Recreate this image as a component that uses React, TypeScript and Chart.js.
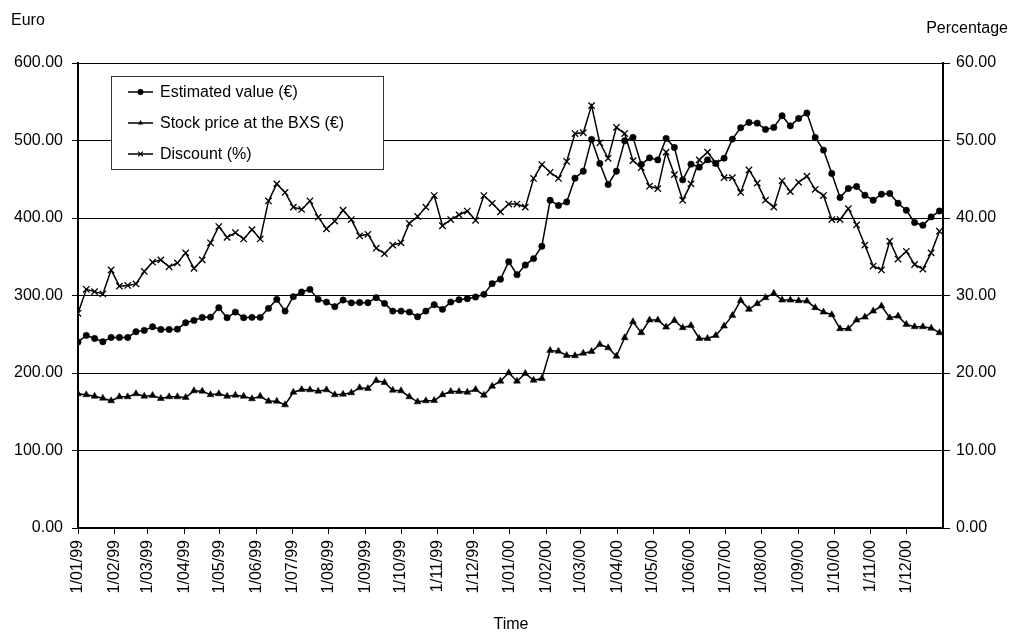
import React, { useEffect, useRef } from 'react';
import { Chart, registerables } from 'chart.js';

Chart.register(...registerables);

const FONT_FAMILY = "'Liberation Sans', Arial, Helvetica, sans-serif";

// Month-start tick labels (d/mm/yy)
const TICK_LABELS = [
  '1/01/99', '1/02/99', '1/03/99', '1/04/99', '1/05/99', '1/06/99',
  '1/07/99', '1/08/99', '1/09/99', '1/10/99', '1/11/99', '1/12/99',
  '1/01/00', '1/02/00', '1/03/00', '1/04/00', '1/05/00', '1/06/00',
  '1/07/00', '1/08/00', '1/09/00', '1/10/00', '1/11/00', '1/12/00',
];

const START_DATE = '1/01/99';
const END_DATE = '1/01/01';

// Weekly observations (Fridays), starting 1 Jan 1999
const ESTIMATED_VALUE = [
  240, 248.5, 244.6, 240.3, 245.9, 245.9, 245.9, 253.3, 255, 259.7,
  256.2, 256.2, 256.6, 264.9, 267.9, 271.7, 272.1, 284.3, 271.4, 278.6,
  271.4, 271.8, 271.8, 283.4, 295, 279.9, 298.5, 304.5, 307.9, 295,
  291.5, 285.6, 294.1, 290.5, 291, 290.7, 297.2, 289.8, 279.9, 279.9,
  278.6, 272.6, 279.9, 288.1, 282.1, 291.5, 294.6, 295.9, 298, 301.5,
  315.3, 321, 343.7, 326.9, 339.3, 347.6, 363.5, 422.9, 416.1, 420.7,
  451.4, 460.4, 501.4, 470.4, 443.2, 460.4, 499.6, 504, 469.1, 477.6,
  475, 502.7, 491, 449.2, 469.5, 465.6, 475, 470.4, 477.2, 501.8,
  516.4, 523.3, 522.4, 514.3, 516.9, 531.9, 518.9, 528.5, 535.4, 504,
  487.6, 457.4, 426.4, 438.1, 440.6, 429.4, 422.9, 430.7, 431.6, 419.1,
  410, 394.1, 390.6, 401.4, 409,
];

const STOCK_PRICE = [
  173.2, 171.9, 170, 167.5, 164.1, 169.3, 169.3, 173.2, 170, 171,
  167.1, 169.3, 169.3, 168.4, 177, 176.6, 172, 173.2, 170, 171.4,
  170, 166.7, 170, 163.6, 163.6, 158.9, 175.2, 178.7, 178.3, 176.6,
  178.3, 171.9, 172.6, 174.4, 180.9, 180, 190.3, 187.8, 177.8, 177,
  169.3, 162.8, 164.1, 164.5, 171.9, 176.1, 176.1, 175.2, 178.7, 171.4,
  183, 189.4, 200.3, 189.4, 199.4, 190.7, 192.9, 229.1, 228.2, 222.6,
  222.3, 225.6, 227.8, 236.9, 232.6, 221.7, 245.5, 266.2, 252, 268.3,
  268.3, 259.2, 267.9, 258.4, 261.4, 244.6, 244.6, 248.5, 260.5, 274.3,
  293.7, 282.1, 289.5, 297.2, 302.8, 294.1, 294.1, 293.3, 292.8, 284.3,
  278.6, 275.2, 257.1, 257.1, 268.3, 272.1, 279.9, 286.4, 271.4, 273.4,
  262.7, 259.7, 259.7, 257.9, 252,
];

const DISCOUNT = [
  27.7, 30.8, 30.5, 30.2, 33.3, 31.2, 31.3, 31.5, 33.1, 34.3,
  34.6, 33.7, 34.2, 35.5, 33.5, 34.6, 36.8, 38.9, 37.5, 38.1,
  37.3, 38.5, 37.3, 42.2, 44.4, 43.3, 41.4, 41.1, 42.2, 40.1,
  38.6, 39.6, 41.0, 39.8, 37.7, 37.9, 36.1, 35.4, 36.5, 36.8,
  39.3, 40.2, 41.4, 42.9, 39.0, 39.8, 40.4, 40.9, 39.7, 42.9,
  41.9, 40.8, 41.8, 41.8, 41.4, 45.1, 46.9, 45.9, 45.1, 47.3,
  50.9, 51.0, 54.5, 49.7, 47.7, 51.7, 50.9, 47.4, 46.5, 44.1,
  43.8, 48.5, 45.6, 42.3, 44.4, 47.5, 48.5, 47.1, 45.2, 45.2,
  43.3, 46.2, 44.5, 42.3, 41.4, 44.8, 43.4, 44.6, 45.4, 43.7,
  42.9, 39.8, 39.8, 41.2, 39.1, 36.5, 33.8, 33.3, 37.0, 34.7,
  35.7, 34.0, 33.4, 35.5, 38.3,
];

const SERIES_LABELS = ['Estimated value (€)', 'Stock price at the BXS (€)', 'Discount (%)'];

const DAY_MS = 86400000;
function parseDate(label: string): number {
  const [d, m, y] = label.split('/').map(Number);
  return Date.UTC(y < 50 ? 2000 + y : 1900 + y, m - 1, d);
}
const START_MS = parseDate(START_DATE);
const dayOffset = (label: string) => Math.round((parseDate(label) - START_MS) / DAY_MS);
const TICK_DAYS = TICK_LABELS.map(dayOffset);
const AXIS_MAX_DAY = dayOffset(END_DATE);
const OBS_DAYS = ESTIMATED_VALUE.map((_, i) => i * 7);

const toPoints = (arr: number[]) => arr.map((v, i) => ({ x: OBS_DAYS[i], y: v }));

function drawMarker(ctx: CanvasRenderingContext2D, style: string, x: number, y: number, r: number) {
  ctx.beginPath();
  if (style === 'circle') {
    ctx.arc(x, y, r, 0, Math.PI * 2);
    ctx.fill();
  } else if (style === 'triangle') {
    ctx.moveTo(x, y - r);
    ctx.lineTo(x + r * 0.866, y + r * 0.5);
    ctx.lineTo(x - r * 0.866, y + r * 0.5);
    ctx.closePath();
    ctx.fill();
  } else {
    const d = r * 0.8;
    ctx.moveTo(x - d, y - d);
    ctx.lineTo(x + d, y + d);
    ctx.moveTo(x + d, y - d);
    ctx.lineTo(x - d, y + d);
    ctx.lineWidth = 1.2;
    ctx.stroke();
  }
}

const overlayPlugin = {
  id: 'overlay',
  afterDraw(chart: any) {
    const ctx: CanvasRenderingContext2D = chart.ctx;
    ctx.save();
    ctx.fillStyle = '#000';
    ctx.font = `16px ${FONT_FAMILY}`;
    ctx.textBaseline = 'alphabetic';
    ctx.textAlign = 'left';
    ctx.fillText('Euro', 11, 25);
    ctx.textAlign = 'right';
    ctx.fillText('Percentage', 1008, 33);
    ctx.textAlign = 'center';
    ctx.fillText('Time', 511, 629);

    // legend box
    const bx = 111.5, by = 76.5, bw = 272, bh = 93;
    ctx.fillStyle = '#fff';
    ctx.fillRect(bx, by, bw, bh);
    ctx.strokeStyle = '#333';
    ctx.lineWidth = 1;
    ctx.strokeRect(bx, by, bw, bh);
    chart.data.datasets.forEach((ds: any, i: number) => {
      const y = 92 + i * 31;
      ctx.strokeStyle = '#000';
      ctx.fillStyle = '#000';
      ctx.lineWidth = 1.5;
      ctx.beginPath();
      ctx.moveTo(128, y);
      ctx.lineTo(153, y);
      ctx.stroke();
      drawMarker(ctx, ds.pointStyle, 140.5, y, 3);
      ctx.fillStyle = '#000';
      ctx.textAlign = 'left';
      ctx.textBaseline = 'middle';
      ctx.font = `16px ${FONT_FAMILY}`;
      ctx.fillText(ds.label, 160, y + 1);
    });
    ctx.restore();
  },
};

export default function App() {
  const canvasRef = useRef<HTMLCanvasElement | null>(null);

  useEffect(() => {
    if (!canvasRef.current) return;
    const font = { family: FONT_FAMILY, size: 16 };
    const chart = new Chart(canvasRef.current, {
      type: 'line',
      data: {
        datasets: [
          {
            label: SERIES_LABELS[0],
            data: toPoints(ESTIMATED_VALUE),
            yAxisID: 'y',
            borderColor: '#000',
            backgroundColor: '#000',
            borderWidth: 1.5,
            pointStyle: 'circle',
            pointRadius: 3.2,
            pointBorderWidth: 0.5,
            pointBackgroundColor: '#000',
            pointBorderColor: '#000',
            tension: 0,
          },
          {
            label: SERIES_LABELS[1],
            data: toPoints(STOCK_PRICE),
            yAxisID: 'y',
            borderColor: '#000',
            backgroundColor: '#000',
            borderWidth: 1.5,
            pointStyle: 'triangle',
            pointRadius: 4,
            pointBorderWidth: 0.5,
            pointBackgroundColor: '#000',
            pointBorderColor: '#000',
            tension: 0,
          },
          {
            label: SERIES_LABELS[2],
            data: toPoints(DISCOUNT),
            yAxisID: 'y1',
            borderColor: '#000',
            backgroundColor: '#000',
            borderWidth: 1.5,
            pointStyle: 'crossRot',
            pointRadius: 4.5,
            pointBorderWidth: 1.3,
            pointBorderColor: '#000',
            tension: 0,
          },
        ],
      },
      options: {
        animation: false,
        responsive: false,
        devicePixelRatio: 1,
        events: [],
        layout: { padding: { top: 63, left: 0, right: 0, bottom: 0 } },
        plugins: {
          legend: { display: false },
          tooltip: { enabled: false },
          title: { display: false },
        },
        scales: {
          x: {
            type: 'linear',
            min: 0,
            max: AXIS_MAX_DAY,
            afterBuildTicks: (scale: any) => {
              scale.ticks = TICK_DAYS.map((v) => ({ value: v }));
            },
            afterFit: (scale: any) => {
              scale.height = 104;
            },
            ticks: {
              autoSkip: false,
              maxRotation: 90,
              minRotation: 90,
              padding: 6,
              color: '#000',
              font,
              callback: (v: any) => {
                const idx = TICK_DAYS.indexOf(Number(v));
                return idx >= 0 ? TICK_LABELS[idx] : '';
              },
            },
            grid: { drawOnChartArea: false, drawTicks: true, tickLength: 6, color: '#000', lineWidth: 1 },
            border: { display: true, color: '#000', width: 2 },
          },
          y: {
            position: 'left',
            min: 0,
            max: 600,
            afterFit: (scale: any) => {
              scale.width = 78;
            },
            ticks: {
              stepSize: 100,
              padding: 9,
              color: '#000',
              font,
              callback: (v: any) => Number(v).toFixed(2),
            },
            grid: { color: '#000', lineWidth: 1, tickLength: 6 },
            border: { display: true, color: '#000', width: 2 },
          },
          y1: {
            position: 'right',
            min: 0,
            max: 60,
            afterFit: (scale: any) => {
              scale.width = 67;
            },
            ticks: {
              stepSize: 10,
              padding: 6,
              color: '#000',
              font,
              callback: (v: any) => Number(v).toFixed(2),
            },
            grid: { drawOnChartArea: false, color: '#000', lineWidth: 1, tickLength: 7 },
            border: { display: true, color: '#000', width: 2 },
          },
        },
      },
      plugins: [overlayPlugin],
    } as any);
    return () => chart.destroy();
  }, []);

  return (
    <div style={{ position: 'fixed', left: 0, top: 0, width: 1010, height: 632, background: '#fff' }}>
      <canvas ref={canvasRef} width={1010} height={632} style={{ display: 'block' }} />
    </div>
  );
}
